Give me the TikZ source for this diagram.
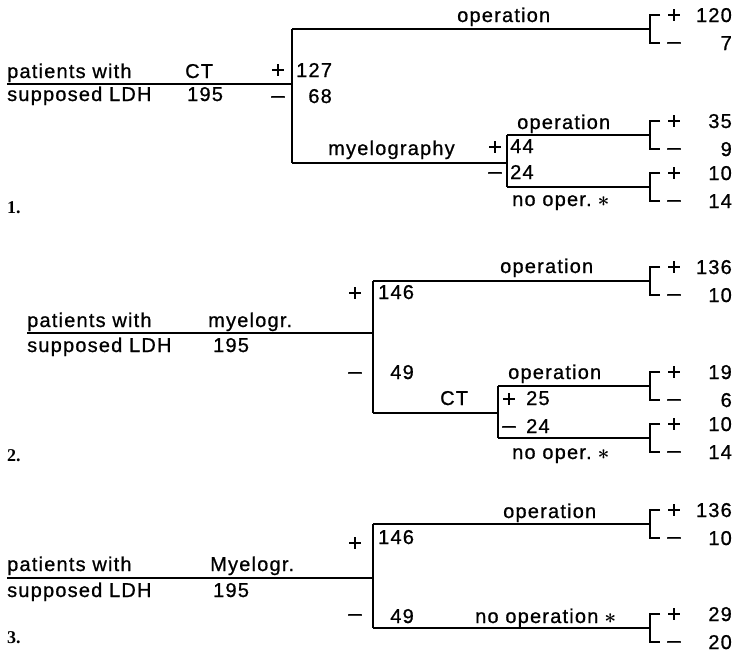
\documentclass[tikz,border=0pt]{standalone}
\usepackage{fontspec}
\setmainfont{Liberation Sans}[LetterSpace=6,FakeBold=0.8]
\newfontfamily\serifnum{Liberation Serif}
\usepackage{tikz}
\usetikzlibrary{positioning}
\newcommand{\noopmark}{\hspace{6pt}{\boldmath$\ast$}}
\begin{document}
\begin{tikzpicture}[x=1pt,y=-1pt,font=\fontsize{20}{24}\selectfont,
   txt/.style={anchor=base west,inner sep=0pt},
   cnt/.style={anchor=base east,inner sep=0pt},
   sgn/.style={anchor=base,inner sep=0pt,font=\fontsize{24}{26}\selectfont},
   lbl/.style={anchor=base west,inner sep=0pt,font=\fontsize{18}{20}\selectfont\serifnum\bfseries},
   tree/.style={line width=1.1pt}]
  \useasboundingbox (0,0) rectangle (737,654);
  \foreach \y/\p/\m in {29/120/7,135/35/9,187/10/14,281/136/10,386/19/6,438/10/14,524/136/10,628/29/20}{
    \coordinate (e\y) at (650,\y);
    \draw[tree] (e\y) ++(10,-14) -| (e\y) |- ++(10,14);
    \node[sgn] (sp\y) at (674,\y-6) {+};
    \node[sgn] (sm\y) at (674,\y+20) {–};
    \node[cnt] (np\y) at (732,\y-7) {\p};
    \node[cnt] (nm\y) at (732,\y+21) {\m};
  }
  \coordinate (r1) at (7,84);
  \coordinate (s1) at (292,84);
  \coordinate (a1) at (292,29);
  \coordinate (b1) at (292,163);
  \coordinate (m1) at (507,163);
  \coordinate (m1a) at (507,135);
  \coordinate (m1b) at (507,187);
  \draw[tree] (r1)--(s1) (a1)--(b1) (a1)--(e29) (b1)--(m1) (m1a)--(m1b) (m1a)--(e135) (m1b)--(e187);
  \node[txt] (pw1) at (7,78) {patients with};
  \node[txt] (sl1) at (7,101) {supposed LDH};
  \node[txt] (ct1) at (185,78) {CT};
  \node[txt] (nn1) at (187,101) {195};
  \node[sgn] (p1) at (278,78) {+};
  \node[sgn] (q1) at (278,103) {–};
  \node[txt] (c127) at (296,77) {127};
  \node[cnt] (c68) at (332,103) {68};
  \node[txt] (op1) at (457,22) {operation};
  \node[txt] (my1) at (328,155) {myelography};
  \node[sgn] (p1b) at (495,155) {+};
  \node[sgn] (q1b) at (495,179) {–};
  \node[txt] (c44) at (510,153) {44};
  \node[txt] (c24) at (510,179) {24};
  \node[txt] (op1b) at (517,129) {operation};
  \node[txt] (no1) at (512,206) {no oper.\noopmark};
  \node[lbl] (t1) at (7,213) {1.};
  \coordinate (r2) at (27,333);
  \coordinate (s2) at (373,333);
  \coordinate (a2) at (373,281);
  \coordinate (b2) at (373,413);
  \coordinate (m2) at (498,413);
  \coordinate (m2a) at (498,386);
  \coordinate (m2b) at (498,438);
  \draw[tree] (r2)--(s2) (a2)--(b2) (a2)--(e281) (b2)--(m2) (m2a)--(m2b) (m2a)--(e386) (m2b)--(e438);
  \node[txt] (pw2) at (27,327) {patients with};
  \node[txt] (sl2) at (27,352) {supposed LDH};
  \node[txt] (my2) at (208,327) {myelogr.};
  \node[txt] (nn2) at (213,352) {195};
  \node[sgn] (p2) at (355,301) {+};
  \node[sgn] (q2) at (355,379) {–};
  \node[txt] (c146) at (378,299) {146};
  \node[cnt] (c49) at (414,379) {49};
  \node[txt] (op2) at (500,273) {operation};
  \node[txt] (ct2) at (440,405) {CT};
  \node[txt] (op2b) at (508,379) {operation};
  \node[sgn] (p25) at (509,407) {+};
  \node[txt] (c25) at (526,405) {25};
  \node[sgn] (m24) at (509,433) {–};
  \node[txt] (c24b) at (526,433) {24};
  \node[txt] (no2) at (512,459) {no oper.\noopmark};
  \node[lbl] (t2) at (7,461) {2.};
  \coordinate (r3) at (7,578);
  \coordinate (s3) at (373,578);
  \coordinate (a3) at (373,524);
  \coordinate (b3) at (373,628);
  \draw[tree] (r3)--(s3) (a3)--(b3) (a3)--(e524) (b3)--(e628);
  \node[txt] (pw3) at (7,571) {patients with};
  \node[txt] (sl3) at (7,597) {supposed LDH};
  \node[txt] (my3) at (210,571) {Myelogr.};
  \node[txt] (nn3) at (213,597) {195};
  \node[sgn] (p3) at (355,551) {+};
  \node[sgn] (q3) at (355,621) {–};
  \node[txt] (c146b) at (378,544) {146};
  \node[cnt] (c49b) at (414,623) {49};
  \node[txt] (op3) at (503,518) {operation};
  \node[txt] (no3) at (475,623) {no operation\noopmark};
  \node[lbl] (t3) at (7,643) {3.};
\end{tikzpicture}
\end{document}
